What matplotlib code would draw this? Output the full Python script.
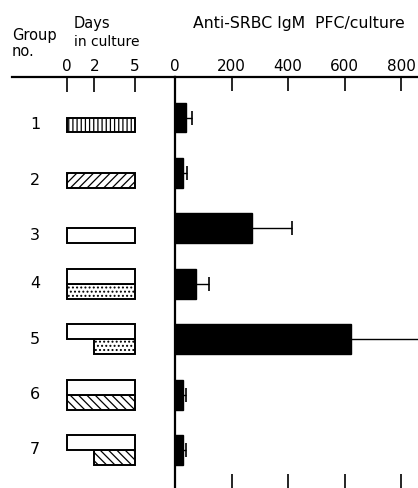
import numpy as np
import matplotlib.pyplot as plt

plt.rcParams['font.family'] = ['DejaVu Sans']
plt.rcParams['hatch.linewidth'] = 0.9

groups = ['1', '2', '3', '4', '5', '6', '7']
pfc_mean = [39, 28, 272, 74, 623, 28, 28]
pfc_err = [21, 14, 142, 46, 300, 11, 12]

# culture schedule per group: top row (open bar) and bottom row (hatched)
top_rows = [None, None, None, (0, 5), (0, 5), (0, 5), (0, 5)]
bottom_rows = [(0, 5), (0, 5), (0, 5), (0, 5), (2, 5), (0, 5), (2, 5)]
bottom_hatch = ['||||', '////', '', '....', '....', '\\\\\\\\', '\\\\\\\\']

day_ticks = [0, 2, 5]
pfc_ticks = [0, 200, 400, 600, 800]

W, H = 418, 488
fig = plt.figure(figsize=(W / 100, H / 100), dpi=100)

top_px = 77
y_top = 1 - (117.5 - top_px) / 55.4
y_bot = 7 + (H - 450) / 55.4
ax_h = (H - top_px) / H

ax_l = fig.add_axes([12 / W, 0, (175 - 12) / W, ax_h])
ax_r = fig.add_axes([175 / W, 0, (W - 175) / W, ax_h])

bh = 0.54
y = np.arange(1, 8)

# right panel: PFC bars
ax_r.barh(y, pfc_mean, height=bh, color='black', edgecolor='black')
ax_r.errorbar(pfc_mean, y, xerr=[np.zeros(7), pfc_err], fmt='none',
              ecolor='black', elinewidth=1.0, capsize=5, capthick=1.2)
ax_r.set_xlim(0, (W - 175) / 0.2825)
ax_r.set_ylim(y_bot, y_top)
ax_r.set_xticks(pfc_ticks)
ax_r.xaxis.tick_top()
ax_r.tick_params(axis='x', which='both', direction='in', length=10, width=1.2,
                 pad=2, labelsize=11, top=True, bottom=True, labelbottom=False)
ax_r.set_yticks([])
for s in ['right', 'bottom']:
    ax_r.spines[s].set_visible(False)
ax_r.spines['top'].set_linewidth(1.6)
ax_r.spines['left'].set_linewidth(1.6)

# left panel: days in culture
for i in range(7):
    yc = y[i]
    b0, b1 = bottom_rows[i]
    ax_l.barh(yc + bh / 4, b1 - b0, left=b0, height=bh / 2, color='white',
              edgecolor='black', linewidth=1.4, hatch=bottom_hatch[i])
    if top_rows[i] is not None:
        t0, t1 = top_rows[i]
        ax_l.barh(yc - bh / 4, t1 - t0, left=t0, height=bh / 2, color='white',
                  edgecolor='black', linewidth=1.4)
        ly = yc
    else:
        ly = yc + bh / 4
    ax_l.text(-2.35, ly, groups[i], ha='center', va='center', fontsize=11.5)

ax_l.set_xlim((12 - 67) / 13.6, (175 - 67) / 13.6)
ax_l.set_ylim(y_bot, y_top)
ax_l.set_xticks(day_ticks)
ax_l.xaxis.tick_top()
ax_l.tick_params(axis='x', direction='in', length=11, width=1.2, pad=2,
                 labelsize=11)
ax_l.set_yticks([])
for s in ['right', 'bottom', 'left']:
    ax_l.spines[s].set_visible(False)
ax_l.spines['top'].set_linewidth(1.6)

# header texts
fig.text(12 / W, 1 - 28 / H, 'Group\nno.', ha='left', va='top', fontsize=10.5,
         linespacing=1.05)
fig.text(74 / W, 1 - 16 / H, 'Days', ha='left', va='top', fontsize=10.5)
fig.text(74 / W, 1 - 35 / H, 'in culture', ha='left', va='top', fontsize=10)
fig.text(193 / W, 1 - 16 / H, 'Anti-SRBC IgM  PFC/culture', ha='left',
         va='top', fontsize=11.3)

fig.savefig('out.png', dpi=100)
